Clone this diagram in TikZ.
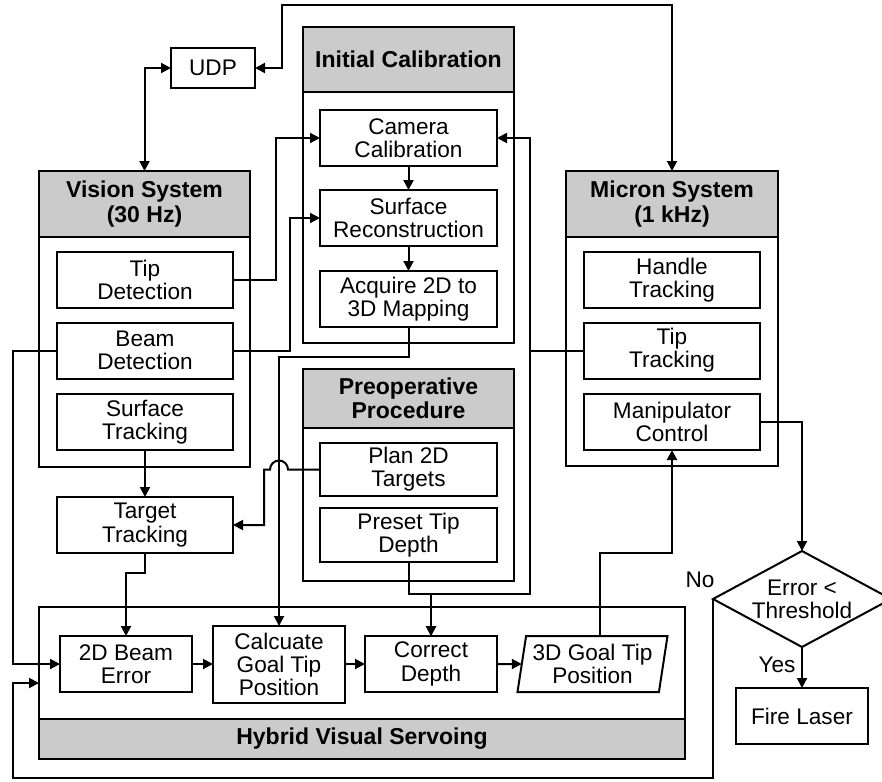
\documentclass[tikz,border=0pt]{standalone}
\usepackage{fontspec}
\setmainfont{Liberation Sans}
\usetikzlibrary{arrows.meta,shapes.geometric}
\definecolor{hdrgray}{RGB}{203,203,203}
\newcommand{\myfs}{\fontsize{11.3}{11.6}\selectfont}
\newcommand{\myhfs}{\fontsize{11.5}{12.2}\selectfont\bfseries}
\tikzset{
  blk/.style={draw, line width=1pt, inner sep=0pt, outer sep=0pt, align=center, font=\myfs, fill=white},
  grp/.style={draw, line width=1pt, inner sep=0pt, outer sep=0pt, fill=white},
  hdr/.style={draw, line width=1pt, fill=hdrgray, inner sep=0pt, outer sep=0pt, align=center, font=\myhfs},
  wire/.style={line width=1pt},
  conn/.style={line width=1pt, -{Triangle[length=5pt,width=5pt]}},
  lbl/.style={inner sep=0pt, font=\myfs}
}
\begin{document}
\begin{tikzpicture}[x=0.5pt,y=-0.5pt]
\useasboundingbox (0,0) rectangle (882,781);

% ---- groups ----
\node[grp, minimum width=105.5pt, minimum height=158pt] (icg) at (408.5,185) {};
\node[hdr, minimum width=105.5pt, minimum height=32.5pt] (ich) at (408.5,59.5) {Initial Calibration};

\node[grp, minimum width=105.5pt, minimum height=148pt] (visg) at (144.5,319) {};
\node[hdr, minimum width=105.5pt, minimum height=33pt] (vish) at (144.5,204) {Vision System\\(30 Hz)};

\node[grp, minimum width=106pt, minimum height=147.5pt] (micg) at (672,318.5) {};
\node[hdr, minimum width=106pt, minimum height=33pt] (mich) at (672,204) {Micron System\\(1 kHz)};

\node[grp, minimum width=105.5pt, minimum height=106pt] (preg) at (408.5,475) {};
\node[hdr, minimum width=105.5pt, minimum height=29.5pt] (preh) at (408.5,398.5) {Preoperative\\Procedure};

\node[grp, minimum width=323pt, minimum height=76pt] (hybg) at (362,683) {};
\node[hdr, minimum width=323pt, minimum height=20pt] (hybh) at (362,739) {Hybrid Visual Servoing};

% ---- blocks ----
\node[blk, minimum width=42pt, minimum height=20pt] (udp) at (213,68) {UDP};

\node[blk, minimum width=88.5pt, minimum height=28pt] (camcal) at (408.5,138) {Camera\\Calibration};
\node[blk, minimum width=88.5pt, minimum height=28pt] (surfrec) at (408.5,218) {Surface\\Reconstruction};
\node[blk, minimum width=88.5pt, minimum height=28pt] (acq) at (408.5,299) {Acquire 2D to\\3D Mapping};

\node[blk, minimum width=88pt, minimum height=28pt] (tipdet) at (145,280) {Tip\\Detection};
\node[blk, minimum width=88pt, minimum height=28pt] (beamdet) at (145,350.5) {Beam\\Detection};
\node[blk, minimum width=88pt, minimum height=28pt] (surftrack) at (145,422) {Surface\\Tracking};
\node[blk, minimum width=88pt, minimum height=28pt] (target) at (145,525) {Target\\Tracking};

\node[blk, minimum width=88pt, minimum height=28pt] (handle) at (672,280) {Handle\\Tracking};
\node[blk, minimum width=88pt, minimum height=28pt] (tiptrack) at (672,350.5) {Tip\\Tracking};
\node[blk, minimum width=88pt, minimum height=28pt] (manip) at (672,422) {Manipulator\\Control};

\node[blk, minimum width=88.5pt, minimum height=26.5pt] (plan) at (408.5,469.5) {Plan 2D\\Targets};
\node[blk, minimum width=88.5pt, minimum height=27pt] (preset) at (408.5,535) {Preset Tip\\Depth};

\node[blk, minimum width=66pt, minimum height=28pt] (beamerr) at (126,664) {2D Beam\\Error};
\node[blk, minimum width=66pt, minimum height=38.5pt] (calc) at (279,664.5) {Calcuate\\Goal Tip\\Position};
\node[blk, minimum width=66pt, minimum height=28pt] (corr) at (431,664) {Correct\\Depth};
\node[blk, shape=trapezium, trapezium left angle=79, trapezium right angle=101, trapezium stretches=true,
      minimum width=75.5pt, minimum height=28pt] (goal) at (592.5,664) {3D Goal Tip\\Position};

\node[blk, shape=diamond, shape aspect=1.85, minimum width=89pt, minimum height=48pt] (dia) at (802,599) {Error <\\Threshold};
\node[blk, minimum width=66pt, minimum height=28pt] (fire) at (802,716) {Fire Laser};

\node[lbl] (nolbl) at (700,580) {No};
\node[lbl] (yeslbl) at (777,665) {Yes};

% ---- connectors ----
\coordinate (top1) at (282,5);
\draw[wire, {Triangle[length=5pt,width=5pt]}-{Triangle[length=5pt,width=5pt]}] (udp.west) -| (visg.north);
\draw[wire, {Triangle[length=5pt,width=5pt]}-{Triangle[length=5pt,width=5pt]}] (udp.east) -| (top1) -| (micg.north);

\draw[conn] (tipdet.east) -- ++(43,0) |- (camcal.west);
\draw[conn] (beamdet.east) -- ++(57,0) |- (surfrec.west);
\draw[conn] (beamdet.west) -- ++(-44,0) |- (beamerr.west);

\draw[conn] (camcal.south) -- (surfrec.north);
\draw[conn] (surfrec.south) -- (acq.north);
\draw[conn] (acq.south) -- ++(0,30) -| (calc.north);

\coordinate (j1) at (530,350.5);
\coordinate (j2) at (530,594);
\draw[conn] (tiptrack.west) -- (j1) |- (camcal.east);
\draw[conn] (j1) -- (j2) -| (corr.north);
\draw[conn] (preset.south) -- ++(0,32) -| (corr.north);

\coordinate (hopR) at (288,469.5);
\coordinate (hopL) at (264,469.5);
\draw[conn] (plan.west) -- (hopR) arc (0:-180:9) -- (hopL) |- (target.east);

\draw[conn] (surftrack.south) -- (target.north);
\draw[conn] (target.south) -- ++(0,20) -| (beamerr.north);

\draw[conn] (beamerr.east) -- (calc.west |- beamerr.east);
\draw[conn] (calc.east |- corr.west) -- (corr.west);
\draw[conn] (corr.east) -- (goal.west);

\draw[conn] ([xshift=3.75pt]goal.north) -- ++(0,-83) -| (manip.south);
\draw[conn] (manip.east) -| (dia.north);
\draw[conn] (dia.south) -- (fire.north);

\coordinate (fb) at (13,778);
\draw[conn] (dia.west) |- (fb) |- (hybg.west);
\end{tikzpicture}
\end{document}
